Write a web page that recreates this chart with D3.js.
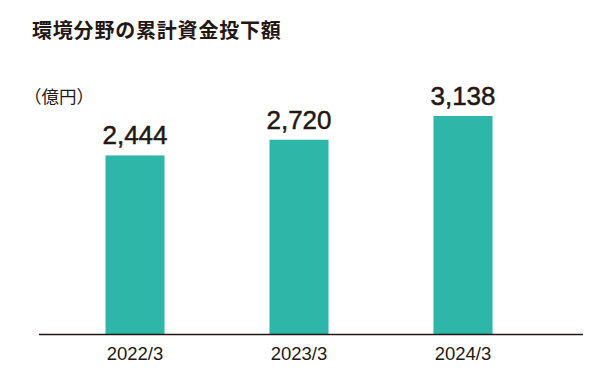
<!DOCTYPE html>
<html>
<head>
<meta charset="utf-8">
<script src="https://cdn.jsdelivr.net/npm/d3@7"></script>
<style>
  body { margin: 0; background: #fff; }
  svg { display: block; }
</style>
</head>
<body>
<svg width="603" height="389"></svg>
<script>
// data
var years = ["2022/3", "2023/3", "2024/3"];
var amounts = [2444, 2720, 3138];

var title = "環境分野の累計資金投下額";
var unit = "（億円）";

var svg = d3.select("svg"),
    baseY = 334;

var ink = "#231815",
    teal = "#2eb6a9";

// x schaal voor de bars
var x = d3.scaleBand()
    .domain(years)
    .range([53, 545])
    .paddingInner(0.64)
    .paddingOuter(0.32);

// y schaal (grafiek begint niet op nul in het origineel)
var y = d3.scaleLinear()
    .domain([-700, 3138])
    .range([baseY, 116]);

var data = years.map(function (d, i) {
    return { jaar: d, waarde: amounts[i] };
});

// titel
svg.append("text")
    .attr("x", 32)
    .attr("y", 38)
    .attr("fill", ink)
    .style("font-family", "'Noto Sans CJK JP', sans-serif")
    .style("font-size", "20px")
    .style("font-weight", "bold")
    .style("letter-spacing", "0.8px")
    .text(title);

svg.append("text")
    .attr("x", 24)
    .attr("y", 103)
    .attr("fill", ink)
    .style("font-family", "'Noto Sans CJK JP', sans-serif")
    .style("font-size", "17.5px")
    .text(unit);

// bars
svg.selectAll(".bar")
    .data(data)
    .enter().append("rect")
    .attr("class", "bar")
    .attr("x", function (d) { return x(d.jaar); })
    .attr("y", function (d) { return y(d.waarde); })
    .attr("width", x.bandwidth())
    .attr("height", function (d) { return baseY - y(d.waarde); })
    .attr("fill", teal);

// waarde labels
svg.selectAll(".label")
    .data(data)
    .enter().append("text")
    .attr("class", "label")
    .attr("x", function (d) { return x(d.jaar) + x.bandwidth() / 2; })
    .attr("y", function (d) { return y(d.waarde) - 11; })
    .attr("text-anchor", "middle")
    .attr("fill", ink)
    .attr("stroke", ink)
    .attr("stroke-width", 0.5)
    .style("font-family", "'Liberation Sans', Arial, sans-serif")
    .style("font-size", "26px")
    .text(function (d) { return d3.format(",")(d.waarde); });

// basislijn
svg.append("line")
    .attr("x1", 39)
    .attr("x2", 583)
    .attr("y1", baseY + 0.5)
    .attr("y2", baseY + 0.5)
    .attr("stroke", ink)
    .attr("stroke-width", 1.3);

// x as labels
var xAxis = svg.append("g")
    .attr("transform", "translate(0," + baseY + ")")
    .call(d3.axisBottom(x).tickSize(0).tickPadding(13));

xAxis.select(".domain").remove();

xAxis.selectAll("text")
    .attr("fill", ink)
    .style("font-family", "'Liberation Sans', Arial, sans-serif")
    .style("font-size", "18.5px");
</script>
</body>
</html>
